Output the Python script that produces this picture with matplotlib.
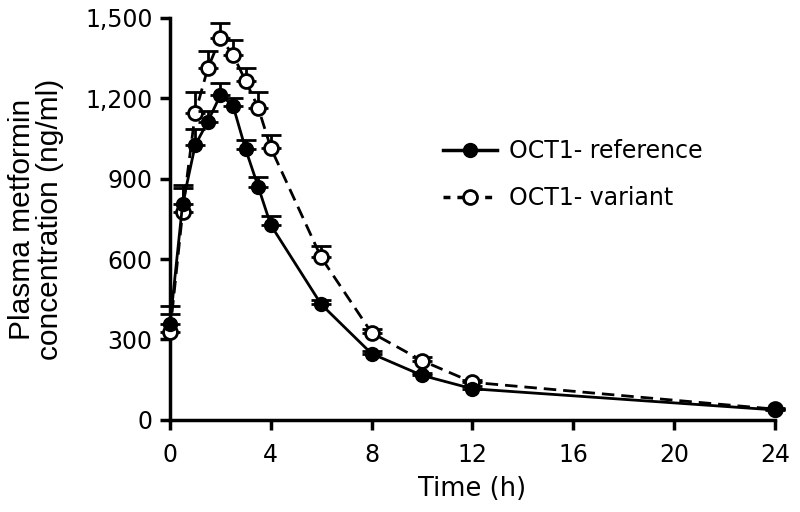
import numpy as np
import matplotlib
matplotlib.use("Agg")
import matplotlib.pyplot as plt
from matplotlib.lines import Line2D
from matplotlib.ticker import FuncFormatter

plt.rcParams['font.family'] = ['DejaVu Sans']

# sampling times (h)
time_h = [0, 0.5, 1, 1.5, 2, 2.5, 3, 3.5, 4, 6, 8, 10, 12, 24]

# mean plasma metformin (ng/ml) and upper SEM
ref_mean = [356, 806, 1025, 1113, 1212, 1173, 1010, 870, 727, 431, 247, 166, 116, 37]
ref_err = [70, 70, 60, 40, 45, 30, 35, 35, 35, 15, 10, 10, 10, 5]

var_mean = [328, 775, 1144, 1312, 1425, 1362, 1265, 1165, 1015, 606, 325, 221, 140, 40]
var_err = [68, 90, 80, 65, 56, 56, 47, 57, 47, 44, 15, 15, 10, 5]

fig = plt.figure(figsize=(8, 5.12), dpi=100)
ax = fig.add_axes([0.2125, 0.18, 0.756, 0.785])

zeros = np.zeros(len(time_h))

ax.errorbar(time_h, var_mean, yerr=[zeros, var_err], fmt='o', ls=(0, (4.5, 2.5)),
            color='black', mfc='white', mec='black', mew=2, ms=10, lw=2,
            capsize=7, capthick=2, elinewidth=2, clip_on=False, zorder=3)
ax.errorbar(time_h, ref_mean, yerr=[zeros, ref_err], fmt='o', ls='-',
            color='black', mfc='black', mec='black', ms=10, lw=2,
            capsize=7, capthick=2, elinewidth=2, clip_on=False, zorder=4)

ax.set_xlim(0, 24)
ax.set_ylim(0, 1500)
ax.set_xticks([0, 4, 8, 12, 16, 20, 24])
ax.set_yticks([0, 300, 600, 900, 1200, 1500])
ax.yaxis.set_major_formatter(FuncFormatter(lambda v, p: f"{int(v):,}"))

for s in ['top', 'right']:
    ax.spines[s].set_visible(False)
for s in ['left', 'bottom']:
    ax.spines[s].set_linewidth(2.5)
ax.tick_params(direction='out', length=7.5, width=2.5, labelsize=17)
ax.tick_params(axis='x', pad=9.5)
ax.tick_params(axis='y', pad=5)

ax.set_xlabel('Time (h)', fontsize=18.5, labelpad=6)
ax.set_ylabel('Plasma metformin\nconcentration (ng/ml)', fontsize=21.5, labelpad=15,
              linespacing=1.0, family=['Liberation Sans', 'DejaVu Sans'])

# legend handles without the error bars
h_ref = Line2D([], [], color='black', lw=2.5, marker='o', ms=10, mfc='black')
h_var = Line2D([], [], color='black', lw=2.5, ls=(0, (2, 2)), marker='o', ms=10,
               mfc='white', mew=2)
ax.legend([h_ref, h_var], ['OCT1- reference', 'OCT1- variant'],
          loc='center left', bbox_to_anchor=(0.451, 0.61), borderpad=0,
          borderaxespad=0, frameon=False, fontsize=17, handlelength=2.3,
          handletextpad=0.5, labelspacing=1.0)

fig.savefig('out.png', dpi=100)
